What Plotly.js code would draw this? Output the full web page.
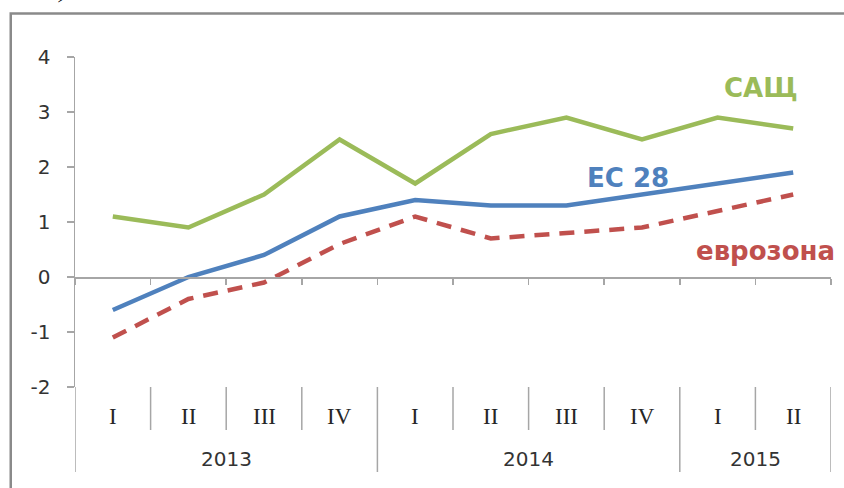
<!DOCTYPE html>
<html>
<head>
<meta charset="utf-8">
<script src="https://cdn.plot.ly/plotly-3.0.1.min.js"></script>
<style>
html,body{margin:0;padding:0;background:#fff;}
#chart{width:844px;height:488px;}
</style>
</head>
<body>
<div id="chart"></div>
<script>
// ---- data ----
const years = ['2013','2013','2013','2013','2014','2014','2014','2014','2015','2015'];
const quarters = ['I','II','III','IV','I','II','III','IV','I','II'];
const usa = [1.1, 0.9, 1.5, 2.5, 1.7, 2.6, 2.9, 2.5, 2.9, 2.7];
const eu28 = [-0.6, 0.0, 0.4, 1.1, 1.4, 1.3, 1.3, 1.5, 1.7, 1.9];
const euroArea = [-1.1, -0.4, -0.1, 0.6, 1.1, 0.7, 0.8, 0.9, 1.2, 1.5];
const yTicks = [-2, -1, 0, 1, 2, 3, 4];
const seriesNames = ['САЩ', 'ЕС 28', 'еврозона'];
const headerFragment = 'ка)';

// ---- build ----
const idx = quarters.map((q, i) => i);
const GREEN = '#9BBB59', BLUE = '#4F81BD', RED = '#C0504D';
const AXIS = '#a6a6a6';

const traces = [
  {x: idx, y: usa, mode: 'lines', line: {color: GREEN, width: 4.5}, hoverinfo: 'skip'},
  {x: idx, y: eu28, mode: 'lines', line: {color: BLUE, width: 4.5}, hoverinfo: 'skip'},
  {x: idx, y: euroArea, mode: 'lines', line: {color: RED, width: 4.5, dash: '15px,10px'}, hoverinfo: 'skip'}
];

// boundaries between categories
const bounds = [];
for (let i = 0; i <= idx.length; i++) {
  const b = i - 0.5;
  const isYear = (i === 0 || i === idx.length || years[i] !== years[i - 1]);
  bounds.push({b, isYear});
}

const shapes = [];
// outer frame
shapes.push({type: 'rect', xref: 'paper', yref: 'paper', x0: -0.085, x1: 1.1, y0: -0.4, y1: 1.1318,
  line: {color: '#8a8a8a', width: 2.5}, fillcolor: 'rgba(0,0,0,0)', layer: 'below'});
bounds.forEach(o => {
  shapes.push({type: 'line', xref: 'x', yref: 'paper', x0: o.b, x1: o.b, y0: 0,
    y1: o.isYear ? -0.2576 : -0.1303, line: {color: AXIS, width: 1.5}});
});

const annotations = [];
quarters.forEach((q, i) => {
  annotations.push({x: i, y: -0.0909, xref: 'x', yref: 'paper', text: q, showarrow: false,
    xanchor: 'center', yanchor: 'middle',
    font: {family: 'Liberation Serif', size: 23, color: '#262626'}});
});
const uniqYears = [...new Set(years)];
uniqYears.forEach(yr => {
  const ii = idx.filter(i => years[i] === yr);
  const mid = (ii[0] + ii[ii.length - 1]) / 2;
  annotations.push({x: mid, y: -0.218, xref: 'x', yref: 'paper', text: yr, showarrow: false,
    xanchor: 'center', yanchor: 'middle',
    font: {family: 'DejaVu Sans', size: 20, color: '#333333'}});
});
// series labels
const labelPos = [[0.907, 0.905], [0.731, 0.634], [0.913, 0.413]];
const labelCol = [GREEN, BLUE, RED];
seriesNames.forEach((n, k) => {
  annotations.push({x: labelPos[k][0], y: labelPos[k][1], xref: 'paper', yref: 'paper', text: '<b>' + n + '</b>',
    showarrow: false, xanchor: 'center', yanchor: 'middle',
    font: {family: 'DejaVu Sans', size: 26, color: labelCol[k]}});
});
// cropped header fragment
annotations.push({x: -0.006, y: 1.158, xref: 'paper', yref: 'paper', text: '<i>' + headerFragment + '</i>',
  showarrow: false, xanchor: 'right', yanchor: 'bottom',
  font: {family: 'Liberation Serif', size: 26, color: '#000'}});

const layout = {
  width: 844, height: 488,
  margin: {l: 75, r: 13, t: 57, b: 101},
  paper_bgcolor: '#fff', plot_bgcolor: 'rgba(0,0,0,0)',
  showlegend: false,
  xaxis: {
    range: [-0.5, idx.length - 0.5], anchor: 'free', position: 1/3,
    showline: true, linecolor: AXIS, linewidth: 1.5,
    ticks: 'outside', ticklen: 6, tickcolor: AXIS, tickwidth: 1.5,
    tickmode: 'array', tickvals: bounds.map(o => o.b), showticklabels: false,
    showgrid: false, zeroline: false, fixedrange: true
  },
  yaxis: {
    range: [yTicks[0], yTicks[yTicks.length - 1]],
    showline: true, linecolor: AXIS, linewidth: 1.5,
    ticks: 'outside', ticklen: 7, tickcolor: AXIS, tickwidth: 1.5,
    tickmode: 'array', tickvals: yTicks, ticktext: yTicks.map(String),
    ticklabelstandoff: 12,
    tickfont: {family: 'DejaVu Sans', size: 20, color: '#333333'},
    showgrid: false, zeroline: false, fixedrange: true
  },
  shapes, annotations
};

Plotly.newPlot('chart', traces, layout, {staticPlot: true, displayModeBar: false});
</script>
</body>
</html>
